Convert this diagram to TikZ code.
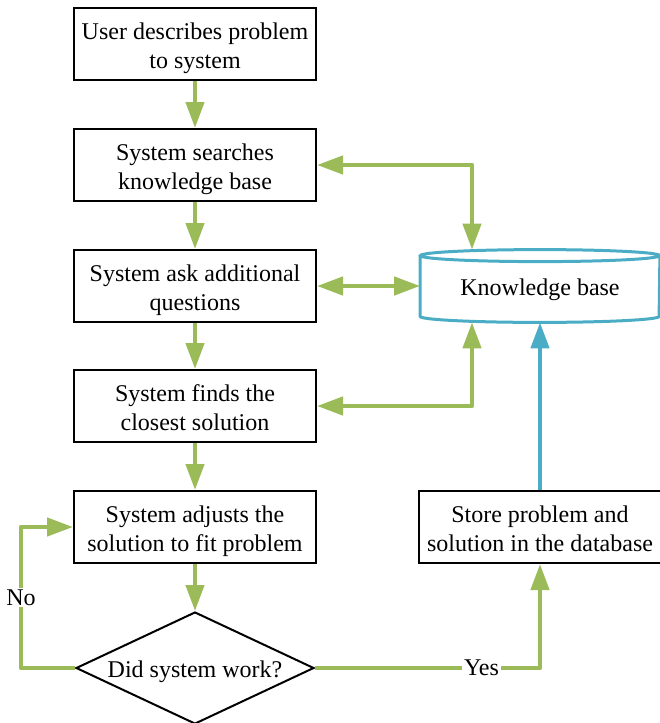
\documentclass[tikz,border=0pt]{standalone}
\usepackage{fontspec}
\setmainfont{Liberation Serif}
\usetikzlibrary{arrows.meta,shapes.geometric}
\definecolor{flowgreen}{HTML}{9BBB59}
\definecolor{kbteal}{HTML}{4BACC6}

\begin{document}
\begin{tikzpicture}[x=0.5pt,y=-0.5pt,
  font=\fontsize{12pt}{14.5pt}\selectfont,
  box/.style={draw,line width=1pt,minimum width=121pt,minimum height=36pt,align=center,inner sep=2pt,
    text height=25pt,text depth=0.35pt},
  kbbox/.style={minimum width=119.5pt,minimum height=36pt,inner sep=0pt,text height=10pt,text depth=0.85pt},
  dec/.style={draw,line width=1pt,diamond,aspect=2.1,minimum width=119pt,minimum height=56pt,inner sep=0pt,
    text height=10.2pt,text depth=0.6pt},
  flow/.style={draw=flowgreen,line width=2.2pt,line join=round,-{Triangle[length=13pt,width=9pt]}},
  back/.style={flow,{Triangle[length=13pt,width=9pt]}-{Triangle[length=13pt,width=9pt]}},
  store/.style={flow,draw=kbteal},
  lbl/.style={fill=white,inner sep=1pt}]
  \useasboundingbox (0,0) rectangle (659,723);
  \node[box] (a) at (195, 44) {User describes problem\\to system};
  \node[box] (b) at (195,165) {System searches\\knowledge base};
  \node[box] (c) at (195,286) {System ask additional\\questions};
  \node[box] (d) at (195,406) {System finds the\\closest solution};
  \node[box] (e) at (195,527) {System adjusts the\\solution to fit problem};
  \node[dec] (f) at (195,668) {Did system work?};
  \node[kbbox] (k) at (540,286) {Knowledge base};
  \node[box] (s) at (540,527) {Store problem and\\solution in the database};
  % cylinder outline
  \draw[kbteal,line width=1.5pt] ([yshift=-3pt]k.north west) -- ([yshift=3pt]k.south west)
    arc[start angle=180,end angle=360,x radius=59.75pt,y radius=3pt] -- ([yshift=-3pt]k.north east);
  \draw[kbteal,line width=1.5pt] ([yshift=-3pt]k.north) ellipse [x radius=59.75pt,y radius=3pt];
  % main flow
  \draw[flow] (a) -- (b);
  \draw[flow] (b) -- (c);
  \draw[flow] (c) -- (d);
  \draw[flow] (d) -- (e);
  \draw[flow] (e) -- (f);
  % links to the knowledge base
  \draw[back] (b.east) -| ([xshift=-34pt]k.north);
  \draw[back] (c.east) -- (k.west);
  \draw[back] (d.east) -| ([xshift=-34pt]k.south);
  \draw[store] (s) -- (k.south -| s.north);
  % decision
  \draw[flow] (f.east) -| node[lbl,pos=0.37] {Yes} (s.south);
  \draw[flow] (f.west) -- ++(-54,0) |- node[lbl,pos=0.25] {No} (e.west);
\end{tikzpicture}
\end{document}
